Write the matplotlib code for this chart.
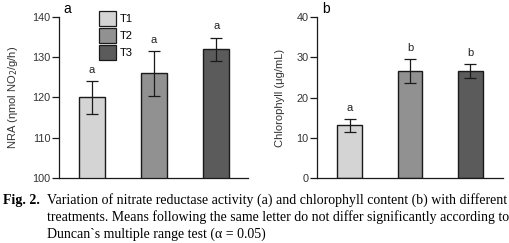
import matplotlib
matplotlib.use("Agg")
import matplotlib.pyplot as plt
from matplotlib.patches import Patch

treatments = ["T1", "T2", "T3"]
colors = ["#d4d4d4", "#919191", "#5b5b5b"]

nra_mean = [120.0, 126.0, 132.0]
nra_err = [4.2, 5.6, 2.9]
nra_letters = ["a", "a", "a"]

chl_mean = [13.1, 26.6, 26.6]
chl_err = [1.6, 3.0, 1.7]
chl_letters = ["a", "b", "b"]

caption_lines = [
    "Variation of nitrate reductase activity (a) and chlorophyll content (b) with different",
    "treatments. Means following the same letter do not differ significantly according to",
    "Duncan`s multiple range test (\u03b1 = 0.05)",
]

plt.rcParams['font.family'] = ['Liberation Sans', 'DejaVu Sans']
W, H = 510, 243
fig = plt.figure(figsize=(W / 100, H / 100), dpi=100)

def px(x0, x1, y0, y1):
    return [x0 / W, 1 - y1 / H, (x1 - x0) / W, (y1 - y0) / H]

ax1 = fig.add_axes(px(59, 248, 17, 178))
ax2 = fig.add_axes(px(317, 503, 17, 178))

def draw(ax, means, errs, letters, ylim, yticks, ylabel, offset, width, xlim, labelpad):
    x = list(range(len(means)))
    ax.bar(x, means, width=width, color=colors, edgecolor="#1a1a1a", linewidth=1.0,
           yerr=errs, capsize=4.5, error_kw=dict(elinewidth=0.9, capthick=0.9, ecolor="#1a1a1a"),
           zorder=2)
    for xi, m, e, l in zip(x, means, errs, letters):
        ax.text(xi, m + e + offset, l, ha="center", va="bottom", fontsize=8, color="#222222")
    ax.set_ylim(*ylim)
    ax.set_xlim(*xlim)
    ax.set_yticks(yticks)
    ax.set_xticks([])
    for s in ["top", "right"]:
        ax.spines[s].set_visible(False)
    for s in ["left", "bottom"]:
        ax.spines[s].set_linewidth(0.9)
        ax.spines[s].set_color("#1a1a1a")
    ax.tick_params(axis="y", labelsize=7.8, length=5, width=0.9, pad=1, colors="#1a1a1a")
    for t in ax.get_yticklabels():
        t.set_color("#333333")
    ax.set_ylabel(ylabel, fontsize=8, color="#333333", labelpad=labelpad)

draw(ax1, nra_mean, nra_err, nra_letters, (100, 140), [100, 110, 120, 130, 140],
     "NRA (\u03b7mol NO$_2$/g/h)", 1.5, 0.42, (-0.53, 2.51), 9)
draw(ax2, chl_mean, chl_err, chl_letters, (0, 40), [0, 10, 20, 30, 40],
     "Chlorophyll (\u03bcg/mL)", 1.5, 0.41, (-0.54, 2.54), 8)

fig.text(63 / W, 1 - 2 / H, "a", fontsize=10, ha="left", va="top")
fig.text(322 / W, 1 - 2 / H, "b", fontsize=10, ha="left", va="top")

handles = [Patch(facecolor=c, edgecolor="#1a1a1a", linewidth=0.9) for c in colors]
fig.legend(handles, treatments, loc="upper left", bbox_to_anchor=(99 / W, 1 - 11 / H),
           frameon=False, fontsize=8, handlelength=1.55, handleheight=1.75,
           labelspacing=0.15, handletextpad=0.3, borderpad=0, borderaxespad=0)

serif = ['Liberation Serif', 'DejaVu Serif']
fig.text(3 / W, 1 - 200 / H, "Fig. 2.", fontsize=10, fontweight="bold", family=serif,
         ha="left", va="center")
ys = [200, 217, 234]
for line, y in zip(caption_lines, ys):
    fig.text(47 / W, 1 - y / H, line, fontsize=10, family=serif, ha="left", va="center")

fig.savefig("out.png", dpi=100)
